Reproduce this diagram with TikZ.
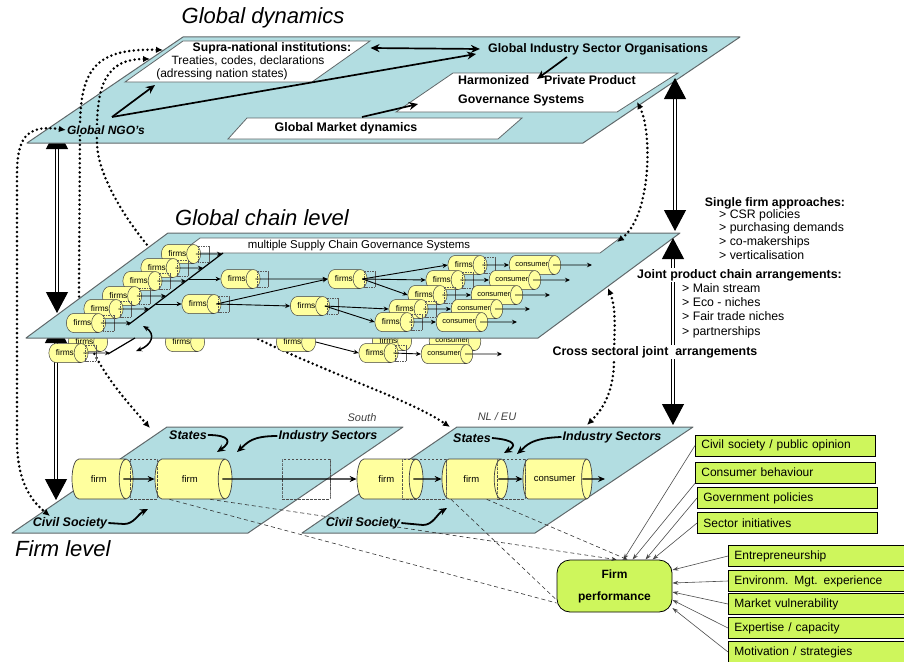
\documentclass[tikz,border=0pt]{standalone}
\usepackage{fontspec}
\setmainfont{Liberation Sans}
\usepackage{tikz}
\usetikzlibrary{calc, positioning, arrows.meta, shapes.geometric}
\definecolor{planeblue}{RGB}{178,221,225}
\definecolor{planeedge}{RGB}{96,104,106}
\definecolor{cylyellow}{RGB}{255,255,158}
\definecolor{factorgreen}{RGB}{206,246,92}
\newcommand{\fsz}[1]{\fontsize{#1}{#1}\selectfont}
\tikzstyle{plane}=[draw=planeedge, fill=planeblue, line width=1pt, line join=round]
\tikzstyle{whitebox}=[draw=planeedge, fill=white, line width=0.8pt]
\tikzstyle{level}=[font=\fsz{22}\itshape, inner sep=0pt]
\tikzstyle{lbl}=[font=\fsz{12.2}\bfseries, inner sep=1pt]
\tikzstyle{txt}=[font=\fsz{12}, inner sep=1pt]
\tikzstyle{actor}=[font=\fsz{12.5}\bfseries\itshape, inner sep=1pt]
\tikzstyle{region}=[font=\fsz{11}\itshape, text=black!75, inner sep=1pt]
\tikzstyle{cyl}=[cylinder, draw=black!75, line width=0.5pt, cylinder uses custom fill, cylinder body fill=cylyellow, cylinder end fill=cylyellow, anchor=shape center, inner sep=0pt, aspect=2.3, minimum width=19pt, minimum height=36pt, font=\fsz{8.3}]
\tikzstyle{cons}=[cyl, minimum height=50pt, aspect=3, font=\fsz{7.5}]
\tikzstyle{tgap}=[cylinder, draw=black!65, dash pattern=on 1.5pt off 1pt, line width=0.4pt, inner sep=0pt, minimum width=16pt, minimum height=11pt, aspect=2]
\tikzstyle{bigcyl}=[cyl, line width=0.7pt, minimum width=40pt, aspect=2, font=\fsz{9.5}]
\tikzstyle{ghost}=[cylinder, draw=black!70, dash pattern=on 2.5pt off 1.5pt, line width=0.6pt, anchor=shape center, minimum width=40pt, aspect=2, inner sep=0pt]
\tikzstyle{flow}=[-{Stealth[length=5pt,width=4.5pt]}, line width=0.9pt]
\tikzstyle{flowb}=[-{Stealth[length=7pt,width=6pt]}, line width=1.1pt]
\tikzstyle{heavy}=[-{Stealth[length=9pt,width=8pt]}, line width=1.7pt]
\tikzstyle{heavytwo}=[{Stealth[length=9pt,width=8pt]}-{Stealth[length=9pt,width=8pt]}, line width=1.7pt]
\tikzstyle{hook}=[-{Stealth[length=8pt,width=7pt]}, line width=1.8pt]
\tikzstyle{dots}=[{Latex[length=7pt,width=6.5pt]}-{Latex[length=7pt,width=6.5pt]}, line width=2.8pt, line cap=round, dash pattern=on 0pt off 4.6pt]
\tikzstyle{bigarrow}=[double=white, double distance=2.4pt, line width=1.1pt, {Triangle[length=21pt,width=22pt]}-{Triangle[length=21pt,width=22pt]}]
\tikzstyle{guess}=[dash pattern=on 4pt off 3pt, draw=black!80, line width=0.6pt]
\tikzstyle{infl}=[-{Stealth[length=6pt,width=4pt]}, draw=black!70, line width=0.6pt]
\tikzstyle{factor}=[draw, line width=0.7pt, fill=factorgreen, anchor=west, minimum height=21pt, text width=168pt, inner xsep=6pt, align=left, font=\fsz{12}]
\tikzstyle{perf}=[draw, line width=0.8pt, fill=factorgreen, rounded corners=13pt, minimum width=115pt, minimum height=52pt, align=center, font=\fontsize{12}{22}\selectfont\bfseries]

\begin{document}
\begin{tikzpicture}[x=1pt, y=-1pt]
\useasboundingbox (0,0) rectangle (904,661);

% the firm level planes
\draw[plane] (12,533) -- (248,533) -- (403,427) -- (167,427) -- cycle;
\draw[plane] (302,533) -- (535,533) -- (693,427) -- (457,427) -- cycle;
\node[region] (south) at (362,418) {South};
\node[region] (nleu) at (497,417) {NL / EU};
\node[actor] (statesS) at (188,435) {States};
\node[actor] (sectorsS) at (328,436) {Industry Sectors};
\node[actor] (civilS) at (70,523) {Civil Society};
\node[actor] (statesN) at (472,438) {States};
\node[actor] (sectorsN) at (612,437) {Industry Sectors};
\node[actor] (civilN) at (363,523) {Civil Society};
\node[level, anchor=west] (flevel) at (15,549) {Firm level};
% the firm chain from south to the consumer
\node[bigcyl, minimum height=61pt] (firmA) at (102.5,479) {firm};
\node[bigcyl, minimum height=77pt] (firmB) at (193.5,479) {firm};
\node[bigcyl, minimum height=66pt] (firmC) at (390,479) {firm};
\node[bigcyl, minimum height=66pt] (firmD) at (475,479) {firm};
\node[bigcyl, minimum height=69pt] (consE) at (557.5,479) {consumer};
\node[ghost, minimum height=27pt] (gapA) at (143.5,479) {};
\node[ghost, minimum height=48pt] (gapB) at (306,479) {};
\node[ghost, minimum height=44pt] (gapC) at (424,479) {};
\node[ghost, minimum height=28pt] (gapD) at (511,479) {};
\coordinate (outE) at (605,479);
\draw[flowb] ([xshift=-10]firmA.east) -- (firmB.west);
\draw[flowb] ([xshift=-10]firmB.east) -- (firmC.west);
\draw[flowb] ([xshift=-10]firmC.east) -- (firmD.west);
\draw[flowb] ([xshift=-10]firmD.east) -- (consE.west);
\draw[flowb] ([xshift=-10]consE.east) -- (outE);
% the pressure of the actors
\draw[hook] (statesS.east) .. controls (230,435) and (232,442) .. (217,452);
\draw[hook] (sectorsS.west) .. controls (252,436) and (248,442) .. (237,452);
\draw[hook] (civilS.east) -- (124,524) .. controls (134,524) and (138,514) .. (148,509);
\draw[hook] (statesN.east) .. controls (517,440) and (516,446) .. (504,453);
\draw[hook] (sectorsN.west) .. controls (530,438) and (526,446) .. (517,454);
\draw[hook] (civilN.east) -- (423,525) .. controls (433,525) and (437,514) .. (447,508);

% the left links between the levels
\coordinate (topL) at (57,128);
\coordinate (chainLtop) at (57,313);
\coordinate (chainLbot) at (56,322);
\coordinate (firmL) at (56,500);
\draw[bigarrow] (topL) -- (chainLtop);
\draw[bigarrow] (chainLbot) -- (firmL);

% the global dynamics plane
\draw[plane] (27,143) -- (583,143) -- (740,37) -- (183,37) -- cycle;
\draw[whitebox] (125,82) -- (312,82) -- (370,41) -- (183,41) -- cycle;
\draw[whitebox] (396,112) -- (617,112) -- (678,73) -- (453,73) -- cycle;
\draw[whitebox] (228,139) -- (498,139) -- (522,118) -- (247,118) -- cycle;
\node[level] (gdyn) at (263,18) {Global dynamics};
\node[lbl] (supra) at (272,48) {Supra-national institutions:};
\node[txt] (treaties) at (248,61) {Treaties, codes, declarations};
\node[txt] (nations) at (222,74) {(adressing nation states)};
\node[lbl, font=\fsz{12.4}\bfseries] (giso) at (598,49) {Global Industry Sector Organisations};
\node[lbl, align=left, anchor=north west, font=\fontsize{12.4}{19}\selectfont\bfseries] (harm) at (457,74) {Harmonized\hspace{1.2em}Private Product\\Governance Systems};
\node[lbl, font=\fsz{12.4}\bfseries] (gmd) at (346,128) {Global Market dynamics};
\coordinate (ngoOut) at (112,117);
\coordinate (supraIn) at (155,85);
\coordinate (gisoIn) at (476,54);
\coordinate (gmdOut) at (362,117);
\coordinate (harmIn) at (418,104);
\coordinate (gisoOut) at (567,57);
\coordinate (harmTop) at (537,79);
\draw[heavy] (ngoOut) -- (supraIn);
\draw[heavy] (ngoOut) -- (gisoIn);
\draw[heavytwo] ([xshift=18]supra.east) -- ([xshift=-7]giso.west);
\draw[heavy] (gmdOut) -- (harmIn);
\draw[heavy] (gisoOut) -- (harmTop);

% dotted links passing behind the chain plane
\draw[dots] (163,50) .. controls (95,48) and (81,70) .. (80,125) -- (79,290) .. controls (78,345) and (112,385) .. (150,428);
\draw[dots] (150,59) .. controls (100,59) and (96,95) .. (97,145) .. controls (100,200) and (180,300) .. (260,340) .. controls (340,378) and (410,400) .. (450,427);
\node[actor, font=\fsz{12}\bfseries\itshape, fill=planeblue] (ngo) at (106,130) {Global NGO's};
\draw[dots] (ngo.west) .. controls (25,124) and (17,140) .. (17,175) -- (17,440) .. controls (17,480) and (30,500) .. (50,516);

% chains partly hidden below the chain plane
\node[cyl] (hidA) at (88,342) {firms};
\node[cyl] (hidB) at (185,342) {firms};
\node[cyl] (hidC) at (296,342) {firms};
\node[cyl] (hidD) at (392,341) {firms};
\node[cons] (hidE) at (455,341) {consumer};

% the global chain plane
\draw[plane] (26,338) -- (538,338) -- (680,233) -- (168,233) -- cycle;
\draw[whitebox] (180,253) -- (600,253) -- (620,238) -- (200,238) -- cycle;
\node[txt, font=\fsz{11.4}] (mscgs) at (359,245.5) {multiple Supply Chain Governance Systems};
\node[level] (gcl) at (262,218) {Global chain level};
% the stack of chains on the left
\foreach \k/\x/\y/\e in {1/181/254/222, 2/160.5/268/203, 3/142.5/281/186, 4/122/296/166, 5/103.5/309/149, 6/86/323/131}{
  \node[cyl] (left\k) at (\x,\y) {firms};
  \node[tgap, right=-3pt of left\k] (leftgap\k) {};
  \draw[flow] ([xshift=-5]left\k.east) -- (\e,\y);
}
\draw[line width=1.2pt] (128,325) -- (223,253);
% the middle firms
\node[cyl] (midA) at (240.5,279) {firms};
\node[cyl] (midB) at (201.5,304) {firms};
\node[cyl] (midC) at (310,306) {firms};
\node[cyl] (midD) at (347.5,279) {firms};
\foreach \m in {midA, midB, midC, midD}{
  \node[tgap, right=-3pt of \m] (\m gap) {};
}
% the firms that reach the consumer
\foreach \k/\x/\c/\y/\e in {1/467.5/535/265/592, 2/445.5/515/280/570, 3/427.5/497/295/550, 4/408.5/477/309/530, 5/394.5/462/322/517}{
  \node[cyl] (rf\k) at (\x,\y) {firms};
  \node[tgap, right=-3pt of rf\k] (rfgap\k) {};
  \node[cons] (rc\k) at (\c,\y) {consumer};
  \draw[flow] ([xshift=-5]rf\k.east) -- (rc\k.west);
  \draw[flow] ([xshift=-8]rc\k.east) -- (\e,\y);
}
\coordinate (diagA) at (189,279);
\coordinate (diagB) at (156,304);
\draw[flow] (diagA) -- (midA.west);
\draw[flow] (diagB) -- (midB.west);
\draw[flow] ([xshift=-5]midA.east) -- (midD.west);
\draw[flow] ([xshift=-5]midB.east) -- (midD.west);
\draw[flow] ([xshift=-5]midB.east) -- (midC.west);
\draw[flow] ([xshift=-5]midC.east) -- (rf4.west);
\draw[flow] ([xshift=-5]midC.east) -- (rf5.west);
\draw[flow] ([xshift=-5]midD.east) -- (rf1.west);
\draw[flow] ([xshift=-5]midD.east) -- (rf2.west);
\draw[flow] ([xshift=-5]midD.east) -- (rf3.west);
% the chains below the plane
\node[cyl] (left7) at (68.5,353) {firms};
\node[tgap, right=-3pt of left7] (leftgap7) {};
\draw[flow] ([xshift=-5]left7.east) -- (110,353);
\draw[line width=1.2pt] (108,354) -- (135,338);
\node[cyl] (lowF) at (378.5,353) {firms};
\node[tgap, right=-3pt of lowF] (lowgap) {};
\node[cons] (lowC) at (447,354) {consumer};
\draw[flow] (hidC.east) -- (lowF.west);
\draw[flow] ([xshift=-5]lowF.east) -- (lowC.west);
\draw[flow] ([xshift=-8]lowC.east) -- (502,354);
\coordinate (swapTop) at (143,326);
\coordinate (swapBot) at (136,351);
\draw[{Stealth[length=6pt,width=5pt]}-{Stealth[length=6pt,width=5pt]}, line width=1.5pt] (swapTop) .. controls (156,334) and (152,345) .. (swapBot);

% the right links between the levels
\coordinate (topR) at (675,78);
\coordinate (chainRtop) at (675,231);
\coordinate (chainRbot) at (673,238);
\coordinate (firmR) at (673,425);
\draw[bigarrow] (topR) -- (chainRtop);
\draw[bigarrow] (chainRbot) -- (firmR);
\draw[dots] (637,102) .. controls (652,130) and (652,215) .. (617,242);
\draw[dots] (608,288) .. controls (617,310) and (614,335) .. (614,360) .. controls (614,395) and (600,412) .. (587,425);
\node[lbl, font=\fsz{12.3}\bfseries] (single) at (775,203) {Single firm approaches:};
\node[txt, align=left, anchor=north west, font=\fontsize{12.3}{13.7}\selectfont] (singlelist) at (718,208) {> CSR policies\\> purchasing demands\\> co-makerships\\> verticalisation};
\node[lbl, font=\fsz{12.4}\bfseries, fill=white, anchor=west] (joint) at (636,275) {Joint product chain arrangements:};
\node[txt, align=left, anchor=north west, font=\fontsize{12.3}{14.3}\selectfont] (jointlist) at (681,282) {> Main stream\\> Eco - niches\\> Fair trade niches\\> partnerships};
\node[lbl, font=\fsz{12.4}\bfseries, fill=white] (cross) at (655,352) {Cross sectoral joint\ \ arrangements};

% firm performance and its factors
\node[perf] (fp) at (614.5,586) {Firm\\performance};
\node[factor] (civ) at (695,445.5) {Civil society / public opinion};
\node[factor] (cbeh) at (695,472.5) {Consumer behaviour};
\node[factor] (gov) at (697,498) {Government policies};
\node[factor] (sect) at (697,523) {Sector initiatives};
\node[factor, text width=164pt] (entr) at (728,556) {Entrepreneurship};
\node[factor, text width=164pt] (envm) at (728,581) {Environm. Mgt. experience};
\node[factor, text width=164pt] (mvul) at (728,604) {Market vulnerability};
\node[factor, text width=164pt] (expc) at (728,628) {Expertise / capacity};
\node[factor, text width=164pt] (motv) at (728,652) {Motivation / strategies};
\draw[infl] (civ.west) -- ([xshift=9]fp.north);
\draw[infl] (cbeh.south west) -- ([xshift=18]fp.north);
\draw[infl] (gov.west) -- ([xshift=31]fp.north);
\draw[infl] (sect.west) -- ([xshift=38]fp.north);
\draw[infl] (entr.west) -- ([shift={(0,-16)}]fp.east);
\draw[infl] (envm.west) -- ([shift={(0,-3)}]fp.east);
\draw[infl] (mvul.west) -- ([shift={(0,6)}]fp.east);
\draw[infl] (expc.west) -- ([shift={(0,14)}]fp.east);
\draw[infl] (motv.west) -- ([shift={(0,22)}]fp.east);
\draw[guess] (firmB.south west) -- ([shift={(0,17)}]fp.west);
\draw[guess, -{Stealth[length=5pt,width=4pt]}] (firmB.south east) -- ([xshift=2]fp.north);
\draw[guess] (firmD.south west) -- ([shift={(0,14)}]fp.west);
\draw[guess, -{Stealth[length=5pt,width=4pt]}] ([xshift=-5]firmD.south east) -- ([xshift=13]fp.north);
\end{tikzpicture}
\end{document}
